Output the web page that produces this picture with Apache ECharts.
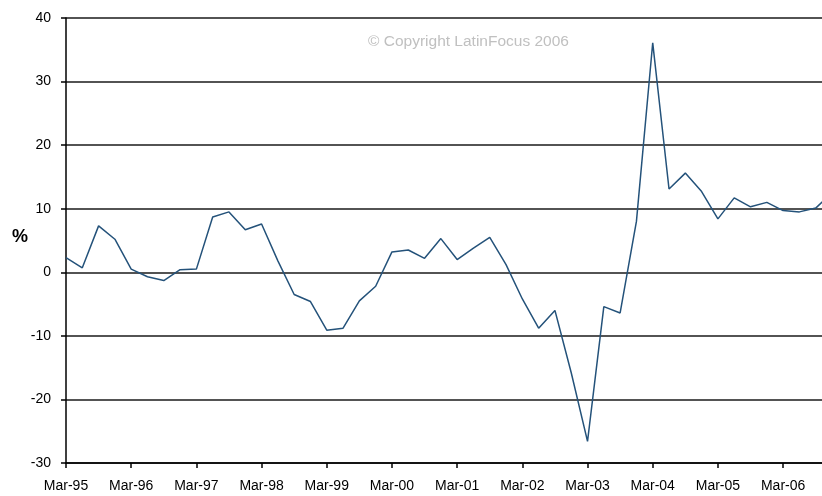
<!DOCTYPE html>
<html>
<head>
<meta charset="utf-8">
<script src="https://cdn.jsdelivr.net/npm/echarts@6/dist/echarts.min.js"></script>
<style>
  html, body { margin: 0; padding: 0; background: #fff; overflow: hidden; }
  /* plot runs past the right edge of the window, like the cropped original */
  #chart { width: 832px; height: 496px; }
</style>
</head>
<body>
<div id="chart"></div>
<script>
// quarterly periods, Mar-95 .. Dec-06
var quarters = [];
var months = ['Mar', 'Jun', 'Sep', 'Dec'];
for (let y = 95; y <= 106; y++) {
    for (let m = 0; m < 4; m++) {
        quarters.push(months[m] + '-' + String(y % 100).padStart(2, '0'));
    }
}

// % change
var values = [
    2.3, 0.7, 7.3, 5.2, 0.5, -0.7, -1.3, 0.4,
    0.5, 8.7, 9.5, 6.7, 7.6, 1.8, -3.5, -4.6,
    -9.1, -8.8, -4.5, -2.2, 3.2, 3.5, 2.2, 5.3,
    2.0, 3.8, 5.5, 1.2, -4.2, -8.8, -6.0, -15.8,
    -26.6, -5.4, -6.4, 8.0, 36.1, 13.1, 15.6, 12.7,
    8.4, 11.7, 10.3, 11.0, 9.7, 9.5, 10.1, 12.5
];

var yTicks = [-30, -20, -10, 0, 10, 20, 30, 40];

var myChart = echarts.init(document.getElementById('chart'));

var option = {
    animation: false,
    backgroundColor: '#fff',
    textStyle: {
        fontFamily: 'Liberation Sans, Arial, sans-serif'
    },
    grid: {
        left: 66,
        right: 0,
        top: 18,
        height: 445
    },
    xAxis: {
        type: 'category',
        data: quarters,
        boundaryGap: false,
        axisLine: {
            onZero: false,
            lineStyle: { color: '#000', width: 1.5 }
        },
        axisTick: {
            interval: 3,
            length: 5,
            lineStyle: { color: '#000', width: 1.5 }
        },
        axisLabel: {
            interval: 3,
            color: '#000',
            fontSize: 14,
            margin: 16
        },
        splitLine: { show: false }
    },
    yAxis: {
        type: 'value',
        min: yTicks[0],
        max: yTicks[yTicks.length - 1],
        interval: 10,
        axisLine: {
            show: true,
            lineStyle: { color: '#000', width: 1.5 }
        },
        axisTick: {
            show: true,
            length: 5,
            lineStyle: { color: '#000', width: 1.5 }
        },
        axisLabel: {
            color: '#000',
            fontSize: 14,
            margin: 15
        },
        splitLine: {
            show: true,
            lineStyle: { color: '#1a1a1a', width: 1.5 }
        }
    },
    graphic: [
        {
            type: 'text',
            left: 12,
            top: 228,
            style: {
                text: '%',
                fill: '#000',
                font: 'bold 18px Liberation Sans, Arial, sans-serif'
            }
        },
        {
            type: 'text',
            left: 368,
            top: 34,
            style: {
                text: '\u00A9 Copyright LatinFocus 2006',
                fill: '#c0c0c0',
                font: '15.5px Liberation Sans, Arial, sans-serif'
            }
        }
    ],
    series: [
        {
            type: 'line',
            data: values,
            symbol: 'none',
            lineStyle: {
                color: '#24527a',
                width: 1.5
            }
        }
    ]
};

myChart.setOption(option);
</script>
</body>
</html>
